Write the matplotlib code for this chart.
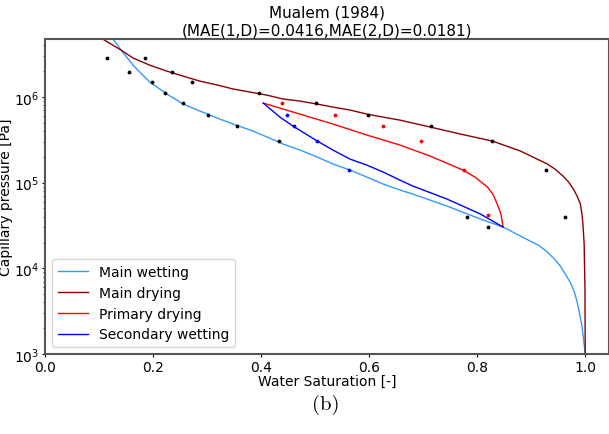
import numpy as np
import matplotlib
matplotlib.use("Agg")
import matplotlib.pyplot as plt

# curves (saturation, capillary pressure in Pa)
wet_s = [0.126, 0.141, 0.163, 0.194, 0.226, 0.256, 0.287, 0.319, 0.348, 0.380, 0.411,
         0.441, 0.472, 0.504, 0.533, 0.565, 0.596, 0.626, 0.657, 0.681, 0.744, 0.806,
         0.848, 0.898, 0.913, 0.930, 0.943, 0.954, 0.963, 0.972, 0.980, 0.985, 0.994,
         1.000]
wet_p = [4.74e6, 3.52e6, 2.35e6, 1.49e6, 1.08e6, 8.26e5, 6.84e5, 5.67e5, 4.83e5, 4.11e5,
         3.41e5, 2.82e5, 2.40e5, 1.99e5, 1.65e5, 1.40e5, 1.16e5, 9.63e4, 8.20e4, 7.36e4,
         5.33e4, 3.76e4, 3.03e4, 2.08e4, 1.87e4, 1.55e4, 1.28e4, 1.06e4, 8.57e3, 6.92e3,
         5.29e3, 4.05e3, 2.12e3, 1.0e3]

dry_s = [0.107, 0.141, 0.163, 0.194, 0.226, 0.256, 0.287, 0.319, 0.348, 0.380, 0.411,
         0.441, 0.472, 0.504, 0.533, 0.565, 0.596, 0.626, 0.657, 0.713, 0.769, 0.828,
         0.880, 0.930, 0.944, 0.959, 0.969, 0.978, 0.985, 0.991, 0.994, 0.996, 0.998,
         0.9995, 1.000]
dry_p = [4.74e6, 3.52e6, 2.85e6, 2.35e6, 2.00e6, 1.75e6, 1.53e6, 1.38e6, 1.24e6, 1.14e6,
         1.05e6, 9.46e5, 8.96e5, 8.26e5, 7.62e5, 7.03e5, 6.31e5, 5.82e5, 5.37e5, 4.46e5,
         3.69e5, 3.06e5, 2.34e5, 1.65e5, 1.44e5, 1.19e5, 1.02e5, 8.41e4, 6.98e4, 5.63e4,
         4.30e4, 3.12e4, 1.92e4, 5.73e3, 1.0e3]

pdry_s = [0.404, 0.472, 0.533, 0.596, 0.657, 0.713, 0.774, 0.796, 0.819, 0.830, 0.837,
          0.844, 0.848]
pdry_p = [8.49e5, 6.31e5, 4.83e5, 3.59e5, 2.75e5, 2.04e5, 1.40e5, 1.16e5, 8.89e4, 7.16e4,
          5.63e4, 4.30e4, 3.03e4]

swet_s = [0.404, 0.435, 0.459, 0.504, 0.533, 0.565, 0.596, 0.626, 0.657, 0.681, 0.744,
          0.806, 0.848]
swet_p = [8.49e5, 5.82e5, 4.57e5, 3.06e5, 2.40e5, 1.88e5, 1.60e5, 1.33e5, 1.07e5, 9.12e4,
          6.44e4, 4.30e4, 3.03e4]

# measured points
meas_s = [0.115, 0.156, 0.198, 0.222, 0.256, 0.302, 0.356, 0.433, 0.781, 0.820,
          0.185, 0.235, 0.272, 0.396, 0.502, 0.598, 0.715, 0.828, 0.928, 0.963]
meas_p = [2.85e6, 1.95e6, 1.49e6, 1.11e6, 8.49e5, 6.15e5, 4.57e5, 3.06e5, 3.97e4, 3.03e4,
          2.85e6, 1.95e6, 1.49e6, 1.11e6, 8.49e5, 6.15e5, 4.57e5, 3.06e5, 1.40e5, 3.97e4]
red_s = [0.439, 0.537, 0.626, 0.696, 0.776, 0.820]
red_p = [8.49e5, 6.15e5, 4.57e5, 3.06e5, 1.40e5, 4.19e4]
blue_s = [0.448, 0.461, 0.504, 0.563]
blue_p = [6.15e5, 4.57e5, 3.06e5, 1.40e5]

fig = plt.figure(figsize=(6.09, 4.35), dpi=100)
ax = fig.add_axes([0.0739, 0.184, 0.9261, 0.724])

ax.plot(wet_s, wet_p, color='#3399ff', lw=1, label='Main wetting')
ax.plot(dry_s, dry_p, color='#8b0000', lw=1, label='Main drying')
ax.plot(pdry_s, pdry_p, color='red', lw=1, label='Primary drying')
ax.plot(swet_s, swet_p, color='blue', lw=1, label='Secondary wetting')
ax.scatter(meas_s, meas_p, s=3, color='black', zorder=3)
ax.scatter(red_s, red_p, s=3, color='red', zorder=3)
ax.scatter(blue_s, blue_p, s=3, color='blue', zorder=3)

ax.set_yscale('log')
ax.set_xlim(0, 1.044)
ax.set_ylim(1e3, 4.75e6)
ax.set_xticks([0.0, 0.2, 0.4, 0.6, 0.8, 1.0])
ax.set_xlabel('Water Saturation [-]', fontsize=10, labelpad=0)
ax.set_ylabel('Capillary pressure [Pa]', fontsize=10, labelpad=1)
ax.set_title('Mualem (1984)\n(MAE(1,D)=0.0416,MAE(2,D)=0.0181)', fontsize=11, pad=3,
             linespacing=1.3)
for sp in ax.spines.values():
    sp.set_color('#555555')
    sp.set_linewidth(1.5)
ax.tick_params(labelsize=10, pad=1.5, length=2.5)
ax.tick_params(which='minor', length=1.5)

ax.legend(loc='lower left', fontsize=10, frameon=True, handlelength=2.2)

fig.text(0.535, 0.069, '(b)', fontname='cmr10', fontsize=15, ha='center', va='center')

fig.savefig('out.png', dpi=100)
